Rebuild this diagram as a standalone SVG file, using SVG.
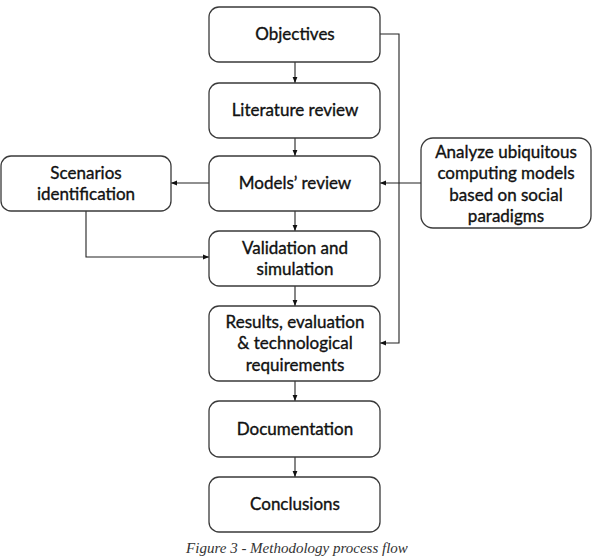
<svg xmlns="http://www.w3.org/2000/svg" width="595" height="558" viewBox="0 0 595 558">
<defs>
<style>
.box{fill:#fff;stroke:#3a3a3a;stroke-width:1.3}
.t{font-family:Lato,"Open Sans","Liberation Sans",sans-serif;font-size:17px;fill:#111;stroke:#111;stroke-width:0.35;text-anchor:middle}
.c{fill:none;stroke:#222;stroke-width:1.1}
.cap{font-family:"Liberation Serif",serif;font-style:italic;font-size:15px;fill:#333;text-anchor:middle}
</style>
<marker id="ah" viewBox="0 0 10 10" refX="10" refY="5" markerWidth="6" markerHeight="6" orient="auto" markerUnits="userSpaceOnUse">
<path d="M0,1 L10,5 L0,9 z" fill="#111"/>
</marker>
</defs>
<rect width="595" height="558" fill="#fff"/>
<g id="connectors">
<line class="c" x1="295" y1="62" x2="295" y2="83" marker-end="url(#ah)"/>
<line class="c" x1="295" y1="138" x2="295" y2="156" marker-end="url(#ah)"/>
<line class="c" x1="295" y1="211" x2="295" y2="231" marker-end="url(#ah)"/>
<line class="c" x1="295" y1="286" x2="295" y2="306" marker-end="url(#ah)"/>
<line class="c" x1="295" y1="381" x2="295" y2="401" marker-end="url(#ah)"/>
<line class="c" x1="295" y1="457" x2="295" y2="477" marker-end="url(#ah)"/>
<line class="c" x1="209" y1="183" x2="171" y2="183" marker-end="url(#ah)"/>
<polyline class="c" points="86,211 86,257 209,257" marker-end="url(#ah)"/>
<line class="c" x1="421" y1="183" x2="380" y2="183" marker-end="url(#ah)"/>
<polyline class="c" points="380,34 399,34 399,343 380,343" marker-end="url(#ah)"/>
</g>
<g id="objectives"><rect class="box" x="209" y="7" width="171" height="55" rx="10"/><text class="t" x="295" y="40">Objectives</text></g>
<g id="literature"><rect class="box" x="209" y="83" width="171" height="55" rx="10"/><text class="t" x="295" y="116">Literature review</text></g>
<g id="models"><rect class="box" x="209" y="156" width="171" height="55" rx="10"/><text class="t" x="295" y="189">Models’ review</text></g>
<g id="scenarios"><rect class="box" x="1" y="156" width="170" height="55" rx="10"/><text class="t" x="86" y="179">Scenarios</text><text class="t" x="86" y="200">identification</text></g>
<g id="validation"><rect class="box" x="209" y="231" width="171" height="55" rx="10"/><text class="t" x="295" y="254">Validation and</text><text class="t" x="295" y="275">simulation</text></g>
<g id="results"><rect class="box" x="209" y="306" width="171" height="75" rx="10"/><text class="t" x="295" y="328">Results, evaluation</text><text class="t" x="295" y="349">&amp; technological</text><text class="t" x="295" y="371">requirements</text></g>
<g id="documentation"><rect class="box" x="209" y="401" width="171" height="56" rx="10"/><text class="t" x="295" y="435">Documentation</text></g>
<g id="conclusions"><rect class="box" x="209" y="477" width="171" height="55" rx="10"/><text class="t" x="295" y="510">Conclusions</text></g>
<g id="analyze"><rect class="box" x="421" y="138" width="170" height="90" rx="12"/><text class="t" x="506" y="158">Analyze ubiquitous</text><text class="t" x="506" y="179">computing models</text><text class="t" x="506" y="201">based on social</text><text class="t" x="506" y="222">paradigms</text></g>
<text class="cap" x="297" y="553">Figure 3 - Methodology process flow</text>
</svg>
